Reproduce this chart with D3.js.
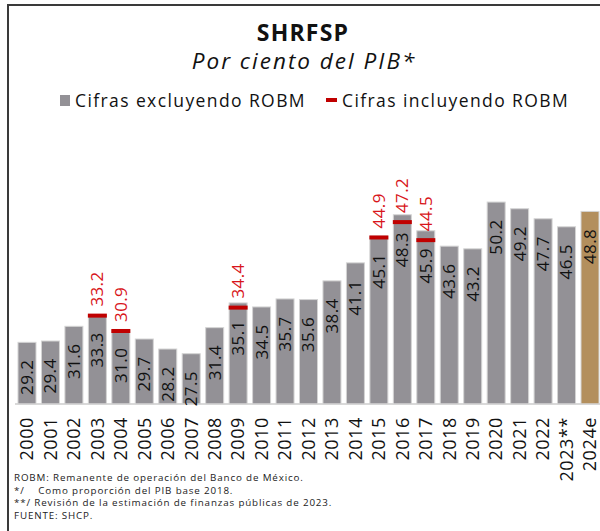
<!DOCTYPE html>
<html>
<head>
<meta charset="utf-8">
<script src="https://cdn.jsdelivr.net/npm/d3@7"></script>
<style>
  html, body { margin: 0; padding: 0; background: #fff; }
  svg { display: block; font-family: "Open Sans", "Noto Sans", sans-serif; }
</style>
</head>
<body>
<svg id="chart" width="600" height="531"></svg>
<script>
// SHRFSP as a share of GDP, 2000-2024e
const years = ["2000","2001","2002","2003","2004","2005","2006","2007","2008","2009","2010","2011","2012",
  "2013","2014","2015","2016","2017","2018","2019","2020","2021","2022","2023**","2024e"];
const excluding = [29.2,29.4,31.6,33.3,31.0,29.7,28.2,27.5,31.4,35.1,34.5,35.7,35.6,
  38.4,41.1,45.1,48.3,45.9,43.6,43.2,50.2,49.2,47.7,46.5,48.8];
// Years where the figure including the central bank operating surplus differs
const robmYears = ["2003","2004","2009","2015","2016","2017"];
const including = [33.2,30.9,34.4,44.9,47.2,44.5];
const footnotes = [
  "ROBM: Remanente de operación del Banco de México.",
  "*/    Como proporción del PIB base 2018.",
  "**/ Revisión de la estimación de finanzas públicas de 2023.",
  "FUENTE: SHCP."
];

const bars = years.map((y, i) => ({ year: y, value: excluding[i] }));
const marks = robmYears.map((y, i) => ({ year: y, value: including[i] }));

const svg = d3.select("#chart");
const GREY = "#939196", GOLD = "#b38f5d", RED = "#c00000";

// outer frame
svg.append("rect").attr("x", 8).attr("y", 5).attr("width", 620).attr("height", 560)
  .attr("fill", "none").attr("stroke", "#3a3a3a").attr("stroke-width", 2);

// titles
svg.append("text").attr("x", 303).attr("y", 41).attr("text-anchor", "middle")
  .attr("font-size", 23).attr("font-weight", 700).attr("letter-spacing", 1.2).attr("fill", "#111").text("SHRFSP");
svg.append("text").attr("x", 304).attr("y", 69).attr("text-anchor", "middle")
  .attr("font-size", 22.5).attr("font-style", "italic").attr("letter-spacing", 2)
  .attr("fill", "#111").text("Por ciento del PIB*");

// legend
const lg = svg.append("g").attr("font-size", 17.5).attr("letter-spacing", 1.4).attr("fill", "#111");
lg.append("rect").attr("x", 60).attr("y", 95).attr("width", 10).attr("height", 11).attr("fill", GREY);
lg.append("text").attr("x", 75).attr("y", 107).text("Cifras excluyendo ROBM");
lg.append("rect").attr("x", 326).attr("y", 98).attr("width", 11).attr("height", 4).attr("fill", RED);
lg.append("text").attr("x", 342).attr("y", 107).text("Cifras incluyendo ROBM");

// scales
const x = d3.scaleBand().domain(years).range([18, 599]).paddingInner(0.233).paddingOuter(0);
const y = d3.scaleLinear().domain([20, 60]).range([403.8, 136.6]);

// baseline
svg.append("line").attr("x1", 15).attr("x2", 600).attr("y1", 404).attr("y2", 404)
  .attr("stroke", "#d9d9d9").attr("stroke-width", 2);

// bars
svg.append("g").selectAll("rect").data(bars).join("rect")
  .attr("x", d => x(d.year)).attr("width", x.bandwidth())
  .attr("y", d => y(d.value)).attr("height", d => y(20) - y(d.value))
  .attr("fill", d => d.year === "2024e" ? GOLD : GREY)
  .attr("stroke", "#d4d4d4").attr("stroke-width", 1);

// value labels inside bars
svg.append("g").selectAll("text").data(bars).join("text")
  .attr("transform", d => `translate(${x(d.year) + x.bandwidth() / 2},${y(d.value) + 35}) rotate(-90)`)
  .attr("text-anchor", "middle").attr("dy", "0.35em")
  .attr("font-size", 17).attr("letter-spacing", 0.4).attr("fill", "#111")
  .text(d => d.value.toFixed(1));

// figures including ROBM
svg.append("g").selectAll("rect").data(marks).join("rect")
  .attr("x", d => x(d.year) - 0.5).attr("width", x.bandwidth() + 1)
  .attr("y", d => y(d.value) - 2).attr("height", 4).attr("fill", RED);
svg.append("g").selectAll("text").data(marks).join("text")
  .attr("transform", d => `translate(${x(d.year) + x.bandwidth() / 2},${y(d.value) - 9}) rotate(-90)`)
  .attr("text-anchor", "start").attr("dy", "0.35em")
  .attr("font-size", 17).attr("letter-spacing", 0.4).attr("fill", "#d8161b")
  .text(d => d.value.toFixed(1));

// year axis labels
const xAxis = d3.axisBottom(x).tickSize(0).tickPadding(0);
const ax = svg.append("g").attr("transform", "translate(0,404)").call(xAxis);
ax.select(".domain").remove();
ax.selectAll("text")
  .attr("font-family", "'Open Sans', sans-serif").attr("font-size", 18).attr("letter-spacing", 0.6)
  .attr("fill", "#111")
  .attr("text-anchor", "end").attr("transform", "translate(0,13) rotate(-90)")
  .attr("x", 0).attr("y", 0).attr("dy", "0.35em");

// footnotes
svg.append("g").selectAll("text").data(footnotes).join("text")
  .attr("x", 14).attr("y", (d, i) => 481 + i * 12.6)
  .attr("font-size", 9.8).attr("letter-spacing", 0.85).attr("fill", "#222")
  .attr("xml:space", "preserve").style("white-space", "pre")
  .text(d => d);
</script>
</body>
</html>
